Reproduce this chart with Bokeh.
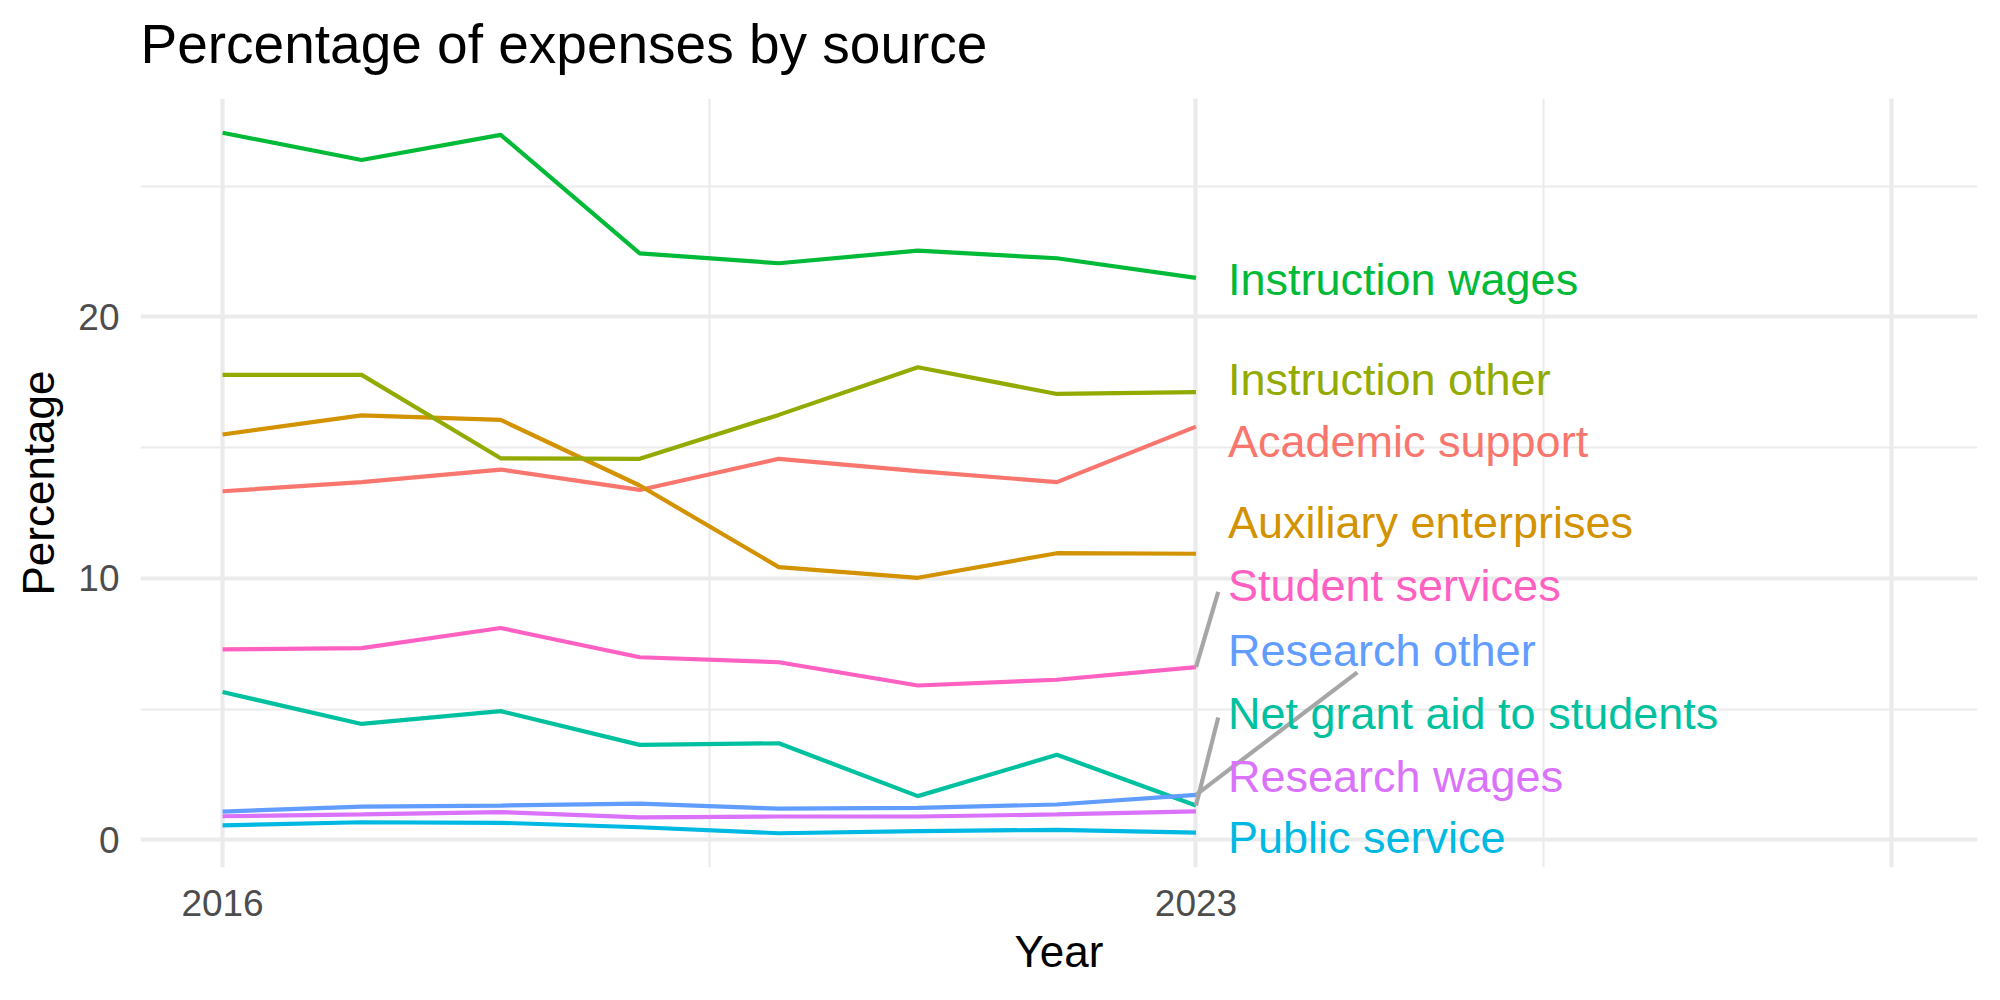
from bokeh.plotting import figure
from bokeh.models import ColumnDataSource, FixedTicker, Range1d, Label
from bokeh.core.properties import value
from bokeh.embed import file_html
from bokeh.resources import INLINE

years = [2016, 2017, 2018, 2019, 2020, 2021, 2022, 2023]

academic_support = [13.33, 13.68, 14.16, 13.38, 14.57, 14.10, 13.68, 15.80]
auxiliary_enterprises = [15.50, 16.23, 16.06, 13.55, 10.43, 10.02, 10.96, 10.94]
instruction_other = [17.78, 17.78, 14.59, 14.57, 16.25, 18.07, 17.05, 17.12]
instruction_wages = [27.04, 26.00, 26.96, 22.43, 22.05, 22.53, 22.24, 21.49]
net_grant_aid = [5.65, 4.43, 4.92, 3.63, 3.69, 1.67, 3.25, 1.31]
public_service = [0.55, 0.67, 0.65, 0.48, 0.25, 0.33, 0.38, 0.27]
research_other = [1.08, 1.27, 1.31, 1.38, 1.19, 1.22, 1.35, 1.72]
research_wages = [0.90, 0.97, 1.06, 0.86, 0.89, 0.89, 0.97, 1.09]
student_services = [7.28, 7.33, 8.10, 6.98, 6.79, 5.90, 6.12, 6.60]

series_names = ["Academic support", "Auxiliary enterprises", "Instruction other",
                "Instruction wages", "Net grant aid to students", "Public service",
                "Research other", "Research wages", "Student services"]
series_values = [academic_support, auxiliary_enterprises, instruction_other,
                 instruction_wages, net_grant_aid, public_service,
                 research_other, research_wages, student_services]
colors = ["#F8766D", "#D39200", "#93AA00", "#00BA38", "#00C19F", "#00B9E3",
          "#619CFF", "#DB72FB", "#FF61C3"]
title_text = "Percentage of expenses by source"

# repelled label layout (data coords)
label_x = 2023.23
label_y = [15.23, 12.13, 17.62, 21.41, 4.83, 0.07, 7.24, 2.42, 9.72]
# leader segments: (series index, end x, end y)
segments = [(8, 2023.16, 9.48), (4, 2023.16, 4.68), (6, 2024.16, 6.40)]

FONT = "Liberation Sans"
X0, X1, Y0, Y1 = 2015.41, 2028.62, -1.06, 28.35

p = figure(width=2000, height=1000, output_backend="svg", toolbar_location=None,
           x_range=Range1d(X0, X1), y_range=Range1d(Y0, Y1),
           min_border_left=140, min_border_right=23, min_border_top=98,
           min_border_bottom=133)
p.outline_line_color = None
p.background_fill_color = "white"
p.border_fill_color = "white"
p.title.text = ""

# grids
p.xgrid.ticker = FixedTicker(ticks=[2016, 2023, 2028], minor_ticks=[2019.5, 2025.5])
p.ygrid.ticker = FixedTicker(ticks=[0, 10, 20], minor_ticks=[5, 15, 25])
for g in (p.xgrid, p.ygrid):
    g.grid_line_color = "#EBEBEB"
    g.grid_line_width = 4.2
    g.minor_grid_line_color = "#EBEBEB"
    g.minor_grid_line_width = 2.1

# axes
p.xaxis.ticker = FixedTicker(ticks=[2016, 2023])
p.yaxis.ticker = FixedTicker(ticks=[0, 10, 20])
for ax in (p.xaxis[0], p.yaxis[0]):
    ax.axis_line_color = None
    ax.major_tick_line_color = None
    ax.minor_tick_line_color = None
    ax.major_tick_out = 0
    ax.major_tick_in = 0
    ax.minor_tick_out = 0
    ax.major_label_text_font = FONT
    ax.major_label_text_font_size = "37px"
    ax.major_label_text_color = "#4D4D4D"
    ax.axis_label_text_font = FONT
    ax.axis_label_text_font_size = "44px"
    ax.axis_label_text_font_style = "normal"
    ax.axis_label_text_color = "black"
p.xaxis.axis_label = "Year"
p.yaxis.axis_label = "Percentage"
p.xaxis.major_label_standoff = 22
p.yaxis.major_label_standoff = 21
p.xaxis.axis_label_standoff = 8
p.yaxis.axis_label_standoff = 12

for name, vals, col in zip(series_names, series_values, colors):
    src = ColumnDataSource(dict(x=years, y=vals))
    p.line("x", "y", source=src, line_color=col, line_width=4.2)

# leader segments
for idx, ex, ey in segments:
    p.segment(x0=[years[-1]], y0=[series_values[idx][-1]], x1=[ex], y1=[ey],
              line_color="#A6A6A6", line_width=4.2)

lab_src = ColumnDataSource(dict(x=[label_x] * len(series_names), y=label_y,
                                text=series_names, color=colors))
p.text(x="x", y="y", text="text", source=lab_src, text_color="color",
       text_font=value(FONT), text_font_size="45px", text_align="left",
       text_baseline="middle")

# title placed in the top border panel, left-aligned with the plot area
p.add_layout(Label(x=X0, y=Y1 + 2.1, text=title_text, text_font=FONT,
                   text_font_size="55px", text_color="black",
                   text_align="left", text_baseline="alphabetic"), "above")

open("out.html", "w").write(file_html(p, INLINE))
